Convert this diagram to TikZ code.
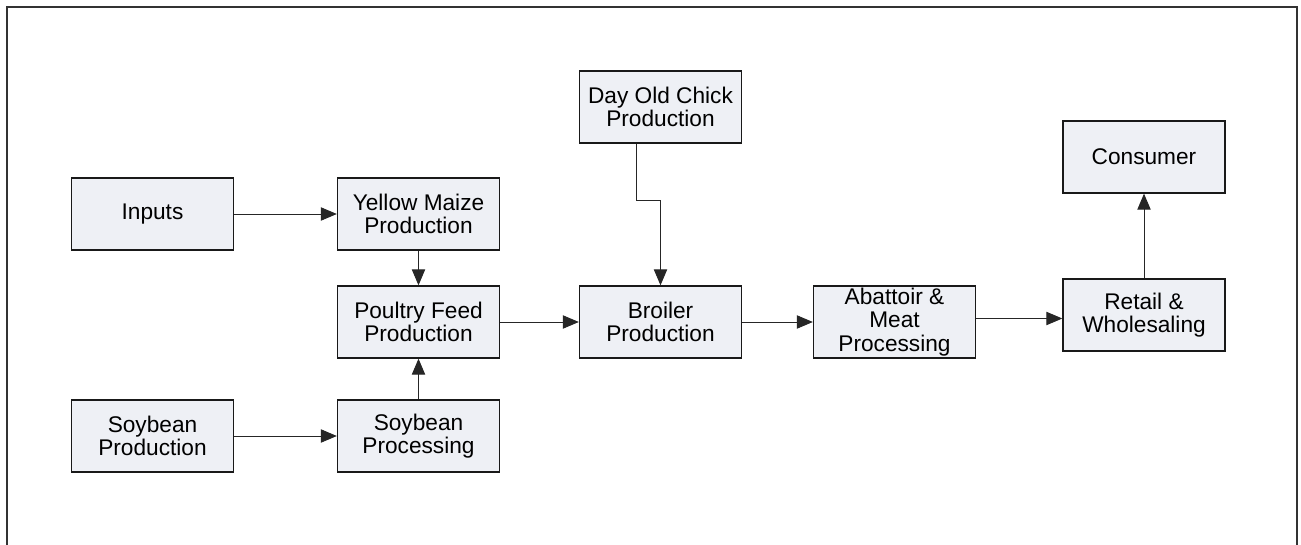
\documentclass[tikz,border=0pt]{standalone}
\usepackage{fontspec}
\setmainfont{Liberation Sans}
\usetikzlibrary{arrows.meta,calc}
\definecolor{boxfill}{RGB}{238,240,245}
\begin{document}
\begin{tikzpicture}[x=0.75pt,y=-0.75pt,
  box/.style={draw=black!90,line width=1pt,fill=boxfill,minimum width=121.5pt,minimum height=54pt,
    align=center,inner sep=0pt,font=\fontsize{17pt}{17.5pt}\selectfont},
  arr/.style={draw=black!85,line width=0.7pt,-{Triangle[length=12pt,width=10pt]}}]
\useasboundingbox (0,0) rectangle (1301,545);
\draw[line width=1.6pt,black!80] (7,546) -- (7,7) -- (1297,7) -- (1297,546);
\node[box] (inputs) at (152.5,214) {Inputs};
\node[box] (maize) at (418.5,214) {Yellow Maize\\Production};
\node[box] (feed) at (418.5,322) {Poultry Feed\\Production};
\node[box] (soyprod) at (152.5,436) {Soybean\\Production};
\node[box] (soyproc) at (418.5,436) {Soybean\\Processing};
\node[box] (chick) at (660.5,107) {Day Old Chick\\Production};
\node[box] (broiler) at (660.5,322) {Broiler\\Production};
\node[box] (abattoir) at (894.5,322) {Abattoir \&\\Meat\\Processing};
\node[box] (retail) at (1144,315) {Retail \&\\Wholesaling};
\node[box] (consumer) at (1144,157) {Consumer};
\draw[arr] (inputs) -- (maize);
\draw[arr] (maize) -- (feed);
\draw[arr] (soyprod) -- (soyproc);
\draw[arr] (soyproc) -- (feed);
\draw[arr] (feed) -- (broiler);
\draw[arr] ($(chick.south)+(-24.5,0)$) -- ++(0,57) -| (broiler.north);
\draw[arr] (broiler) -- (abattoir);
\coordinate (mid) at ($(abattoir.east)!0.5!(retail.west)$);
\draw[arr] (abattoir.east |- mid) -- (retail.west |- mid);
\draw[arr] (retail) -- (consumer);
\end{tikzpicture}
\end{document}
